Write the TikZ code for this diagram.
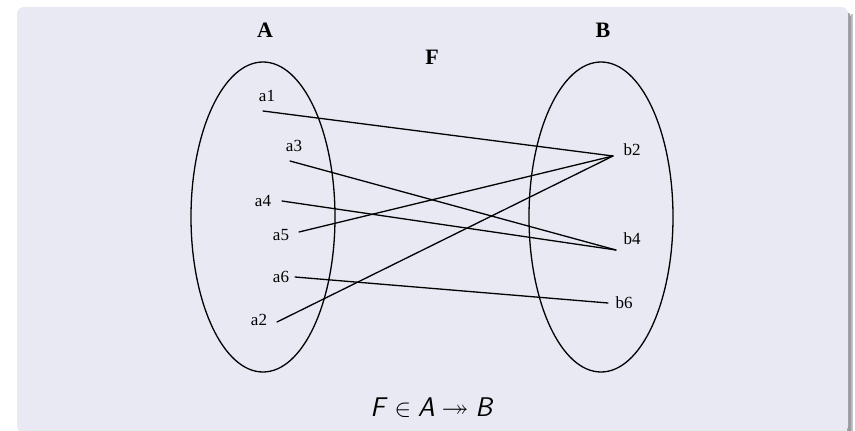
\documentclass[tikz,border=0pt]{standalone}
\usepackage{amssymb}
\usepackage{fontspec}
\setmainfont{Liberation Serif}
\usepackage{tikz}
\usetikzlibrary{positioning}
\definecolor{MapPanel}{HTML}{E9E9F3}
\definecolor{MapShadow}{HTML}{9A9AA0}

\begin{document}
\begin{tikzpicture}[x=1pt,y=-1pt]
    \tikzset{setlabel/.style={font=\fontsize{22}{25}\selectfont\bfseries,inner sep=0pt},
      elemlabel/.style={font=\fontsize{17}{20}\selectfont,inner sep=0pt},
      mapline/.style={line width=1.3pt,line cap=round},
      setshape/.style={draw,line width=1.3pt}}
    \useasboundingbox (0,0) rectangle (855,431);
    % block background with shadow
    \fill[MapShadow!60] (851,14) rectangle (853,440);
    \fill[MapShadow] (847,12) [rounded corners=5pt] -- (851,12) -- (851,440) [sharp corners] -- (847,440) -- cycle;
    \fill[MapPanel,rounded corners=7pt] (17,7) rectangle (848,433);
    % the two sets
    \draw[setshape] (263,217) ellipse [x radius=72,y radius=155];
    \draw[setshape] (601,217) ellipse [x radius=72,y radius=155];
    \node[setlabel] (A) at (265,30) {A};
    \node[setlabel] (B) at (603,30) {B};
    \node[setlabel] (F) at (432,57) {F};
    % elements
    \node[elemlabel] (a1) at (267,96) {a1};
    \node[elemlabel] (a3) at (294,146) {a3};
    \node[elemlabel] (a4) at (263,201) {a4};
    \node[elemlabel] (a5) at (281,235) {a5};
    \node[elemlabel] (a6) at (281,277) {a6};
    \node[elemlabel] (a2) at (259,320) {a2};
    \node[elemlabel] (b2) at (632,150) {b2};
    \node[elemlabel] (b4) at (632,239) {b4};
    \node[elemlabel] (b6) at (624,303) {b6};
    \coordinate (pa1) at (263,111);
    \coordinate (pa3) at (290,161);
    \coordinate (pa4) at (282,201);
    \coordinate (pa5) at (299,232);
    \coordinate (pa6) at (295,277);
    \coordinate (pa2) at (277,322);
    \coordinate (pb2) at (613,156);
    \coordinate (pb4) at (616,250);
    \coordinate (pb6) at (608,303);
    \draw[mapline] (pa1) -- (pb2);
    \draw[mapline] (pa3) -- (pb4);
    \draw[mapline] (pa4) -- (pb4);
    \draw[mapline] (pa5) -- (pb2);
    \draw[mapline] (pa6) -- (pb6);
    \draw[mapline] (pa2) -- (pb2);
    \node[font=\fontsize{27}{31}\selectfont,inner sep=0pt] (fn) at (432,408)
      {\textsf{\itshape F} $\in$ \textsf{\itshape A} $\twoheadrightarrow$ \textsf{\itshape B}};
  \end{tikzpicture}
\end{document}
